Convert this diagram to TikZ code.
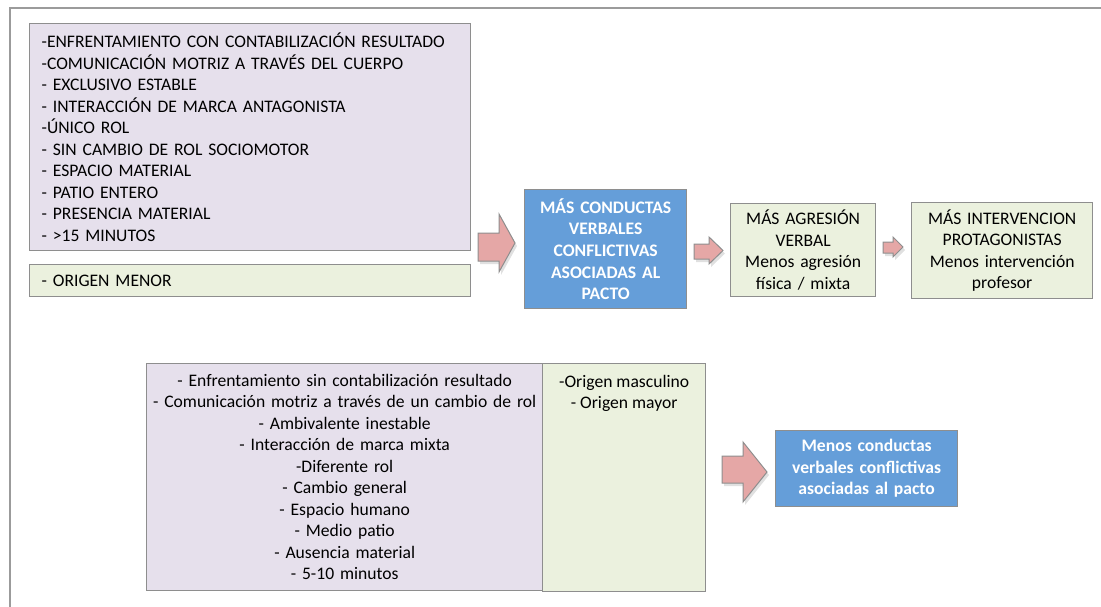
\documentclass[tikz,border=0pt]{standalone}
\usepackage{fontspec}
\setmainfont{Carlito}
\definecolor{lav}{HTML}{E6E0EC}
\definecolor{grn}{HTML}{EBF1DE}
\definecolor{blu}{HTML}{659ED9}
\definecolor{arw}{HTML}{E5A7A6}
\definecolor{bord}{HTML}{8E8E8E}
\definecolor{frame}{HTML}{9B9B9B}
\begin{document}
\begin{tikzpicture}[x=1pt,y=-1pt,
  box/.style={draw=bord, line width=1.3pt, inner ysep=0pt, font=\fontsize{17.6}{21.5}\selectfont},
  lavbox/.style={box, fill=lav},
  grnbox/.style={box, fill=grn},
  blubox/.style={box, fill=blu, text=white, font=\bfseries\fontsize{17.6}{21.7}\selectfont},
  barrow/.style={fill=arw, draw=bord, line width=1pt, line join=miter},
  shadowarrow/.style={fill=black, opacity=0.12, draw=none}
]
\useasboundingbox (0,0) rectangle (1101,607);
% outer frame
\draw[frame, line width=2pt] (10,607) -- (10,8) -- (1101,8);

% top-left boxes
\node[lavbox, anchor=north west, minimum height=227pt, text width=417pt, inner xsep=12pt, align=left] (crit1) at (29,23)
{-ENFRENTAMIENTO CON CONTABILIZACIÓN RESULTADO\\
-COMUNICACIÓN MOTRIZ A TRAVÉS DEL CUERPO\\
- EXCLUSIVO ESTABLE\\
- INTERACCIÓN DE MARCA ANTAGONISTA\\
-ÚNICO ROL\\
- SIN CAMBIO DE ROL SOCIOMOTOR\\
- ESPACIO MATERIAL\\
- PATIO ENTERO\\
- PRESENCIA MATERIAL\\
- >15 MINUTOS};
\node[grnbox, anchor=north west, minimum height=32pt, text width=417pt, inner xsep=12pt, align=left] (orig1) at (29,264)
{- ORIGEN MENOR};

% top chain
\node[blubox, anchor=north west, minimum height=119pt, text width=156pt, inner xsep=3pt, align=center] (res1) at (524,189)
{MÁS CONDUCTAS\\VERBALES\\CONFLICTIVAS\\ASOCIADAS AL\\PACTO};
\node[grnbox, anchor=north west, minimum height=93pt, text width=141pt, inner xsep=2pt, align=center] (agr) at (730,203)
{MÁS AGRESIÓN\\VERBAL\\Menos agresión\\física / mixta};
\node[grnbox, anchor=north west, minimum height=96pt, text width=177pt, inner xsep=2pt, align=center] (interv) at (911,202)
{MÁS INTERVENCION\\PROTAGONISTAS\\Menos intervención\\profesor};

% bottom boxes
\node[lavbox, anchor=north west, minimum height=227pt, text width=390pt, inner xsep=3pt, align=center] (crit2) at (146,363)
{- Enfrentamiento sin contabilización resultado\\
- Comunicación motriz a través de un cambio de rol\\
- Ambivalente inestable\\
- Interacción de marca mixta\\
-Diferente rol\\
- Cambio general\\
- Espacio humano\\
- Medio patio\\
- Ausencia material\\
- 5-10 minutos};
\node[grnbox, anchor=north west, minimum height=228pt, minimum width=163pt] (orig2) at (542,363) {};
\node[anchor=north, align=center, font=\fontsize{17.6}{21.5}\selectfont, inner sep=0pt] (orig2t) at ([yshift=-12pt]orig2.north)
{-Origen masculino\\ - Origen mayor};
\node[blubox, anchor=north west, minimum height=76pt, text width=178pt, inner xsep=2pt, align=center, font=\bfseries\fontsize{17.6}{21.5}\selectfont] (res2) at (775,430)
{Menos conductas\\verbales conflictivas\\asociadas al pacto};

% block arrows  (shaft-left, shaft-top, shaft-bottom, head-start, head-top, head-bottom, tip)
\newcommand{\blockarr}[7]{%
  \fill[shadowarrow, shift={(2,3)}] (#1,#2) -- (#4,#2) -- (#4,#5) -- (#7,{(#5+#6)/2}) -- (#4,#6) -- (#4,#3) -- (#1,#3) -- cycle;
  \draw[barrow] (#1,#2) -- (#4,#2) -- (#4,#5) -- (#7,{(#5+#6)/2}) -- (#4,#6) -- (#4,#3) -- (#1,#3) -- cycle;}
\blockarr{478}{233}{261}{499}{214}{272}{515}
\blockarr{694}{244}{259}{709}{237}{264}{723}
\blockarr{883}{242}{253}{893}{237}{257}{903}
\blockarr{722}{456}{483}{743}{442}{502}{767}
\end{tikzpicture}
\end{document}
